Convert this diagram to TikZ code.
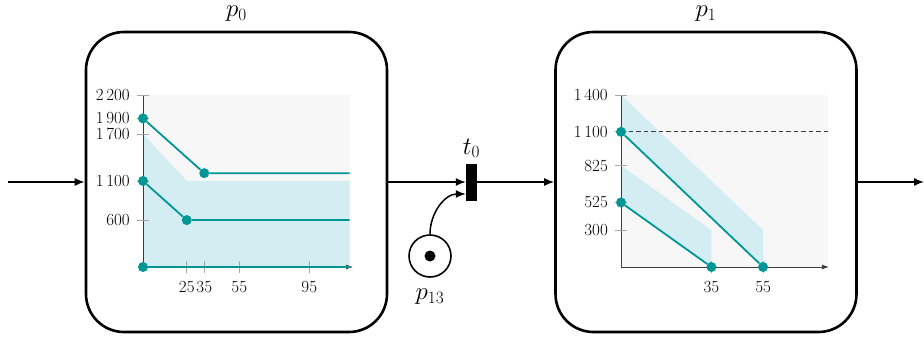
\documentclass[tikz,border=0pt]{standalone}
\usepackage{tikz}
\usetikzlibrary{arrows,arrows.meta,shapes}
\usetikzlibrary{calc}
\definecolor{tealline}{RGB}{0,150,150}
\definecolor{bandblue}{RGB}{212,237,243}
\definecolor{bggrey}{RGB}{247,247,247}
\definecolor{axisgrey}{RGB}{60,60,60}
\tikzstyle{placebox}=[draw,rounded corners=38pt,line width=2.6pt,minimum width=301pt,minimum height=300pt,inner sep=0pt]
\tikzstyle{markedplace}=[circle,draw,line width=1.6pt,minimum size=42pt,inner sep=0pt]
\tikzstyle{tokendot}=[circle,fill=black,minimum size=11pt,inner sep=0pt]
\tikzstyle{trans}=[rectangle,fill=black,minimum width=11pt,minimum height=37pt,inner sep=0pt]
\tikzstyle{flow} = [draw,line width=1.5pt,-{Latex[length=10pt,width=8pt]}]
\tikzstyle{datadot} = [circle,fill=tealline,minimum size=10pt,inner sep=0pt]
\tikzstyle{tealcurve} = [draw=tealline,line width=1.8pt]
\tikzstyle{band} = [fill=bandblue]
\tikzstyle{axisline} = [draw=axisgrey,line width=0.8pt]
\tikzstyle{tickmark} = [draw=gray!70,line width=0.8pt]
\tikzstyle{ylab} = [anchor=east,inner sep=0pt,xshift=-13pt,font=\fontsize{17}{17}\selectfont]
\tikzstyle{xlab} = [anchor=base,inner sep=0pt,yshift=-25.5pt,font=\fontsize{17}{17}\selectfont]
\tikzstyle{placename} = [anchor=base,inner sep=0pt,font=\fontsize{26}{26}\selectfont]

\begin{document}
\begin{tikzpicture}[x=1pt,y=-1pt]

\useasboundingbox (0,0) rectangle (924,343);

% Places and transition
    \foreach \pos/\name in {{(236.5,182)/p0},{(706,182)/p1}}
        \node[placebox] (\name) at \pos {};
    \node[trans] (t0) at (471.5,182) {};
    \node[markedplace] (p13) at (430,256) {};
    \node[tokendot] (tok) at (p13) {};
    \coordinate (src) at (8,182);
    \coordinate (snk) at (924,182);

% Labels
    \node[placename] (lp0) at (236.5,16.5) {$p_0$};
    \node[placename] (lp1) at (706,16.5) {$p_1$};
    \node[placename] (lt0) at (471.5,154) {$t_0$};
    \node[placename] (lp13) at (430,299.5) {$p_{13}$};

% Arcs
    \foreach \source/ \dest in {src/p0, p0/t0, t0/p1, p1/snk}
        \path[flow] (\source) -- (\dest);
    \draw[flow] (p13) to [out=90, in=180] ([yshift=-12pt]t0.west);

%Chart p0
\begin{scope}[shift={(143pt,-267pt)},x=1.75pt,y=0.0782pt]
    \fill[bggrey] (0,0) rectangle (118,2200);
    \fill[band] (0,0) -- (0,1700) -- (25,1100) -- (118,1100) -- (118,0) -- cycle;
    \draw[axisline] (0,0) -- (0,2200);
    \draw[axisline,-{Latex[length=7pt,width=5pt]}] (0,0) -- (120,0);
    \foreach \v in {2200,1900,1700,1100,600}
        \draw[tickmark] ([xshift=-6pt]0,\v) -- ([xshift=6pt]0,\v);
    \foreach \u in {25,35,55,95}
        \draw[tickmark] ([yshift=-6pt]\u,0) -- ([yshift=6pt]\u,0);
    \foreach \v/\txt in {2200/2\,200,1900/1\,900,1700/1\,700,1100/1\,100,600/600}
        \node[ylab] at (0,\v) {\txt};
    \foreach \u in {25,35,55,95}
        \node[xlab] at (\u,0) {\u};

    \foreach \pos/\name in {{(0,1900)/up0},{(35,1200)/up1},{(0,1100)/lo0},{(25,600)/lo1},{(0,0)/zr0}}
        \node[datadot] (\name) at \pos {};
    \coordinate (up2) at (118,1200);
    \coordinate (lo2) at (118,600);
    \coordinate (zr1) at (118,0);
    \path[tealcurve] (up0) -- (up1) -- (up2);
    \path[tealcurve] (lo0) -- (lo1) -- (lo2);
    \path[tealcurve] (zr0) -- (zr1);
\end{scope}

%Chart p1
\begin{scope}[shift={(621pt,-267pt)},x=2.583pt,y=0.1229pt]
    \fill[bggrey] (0,0) rectangle (80,1400);
    \fill[band] (0,1400) -- (55,300) -- (55,0) -- (0,1100) -- cycle;
    \fill[band] (0,825) -- (35,300) -- (35,0) -- (0,525) -- cycle;
    \draw[axisline] (0,0) -- (0,1400);
    \draw[axisline,-{Latex[length=7pt,width=5pt]}] (0,0) -- (80.5,0);
    \draw[axisgrey,line width=0.9pt,dash pattern=on 4.5pt off 3pt] (0,1100) -- (80,1100);
    \foreach \v in {1400,1100,825,525,300}
        \draw[tickmark] ([xshift=-6pt]0,\v) -- ([xshift=6pt]0,\v);
    \foreach \u in {35,55}
        \draw[tickmark] ([yshift=-6pt]\u,0) -- ([yshift=6pt]\u,0);
    \foreach \v/\txt in {1400/1\,400,1100/1\,100,825/825,525/525,300/300}
        \node[ylab] at (0,\v) {\txt};
    \foreach \u in {35,55}
        \node[xlab] at (\u,0) {\u};

    \foreach \pos/\name in {{(0,1100)/hi0},{(55,0)/hi1},{(0,525)/lw0},{(35,0)/lw1}}
        \node[datadot] (\name) at \pos {};
    \path[tealcurve] (hi0) -- (hi1);
    \path[tealcurve] (lw0) -- (lw1);
\end{scope}

\end{tikzpicture}
\end{document}
